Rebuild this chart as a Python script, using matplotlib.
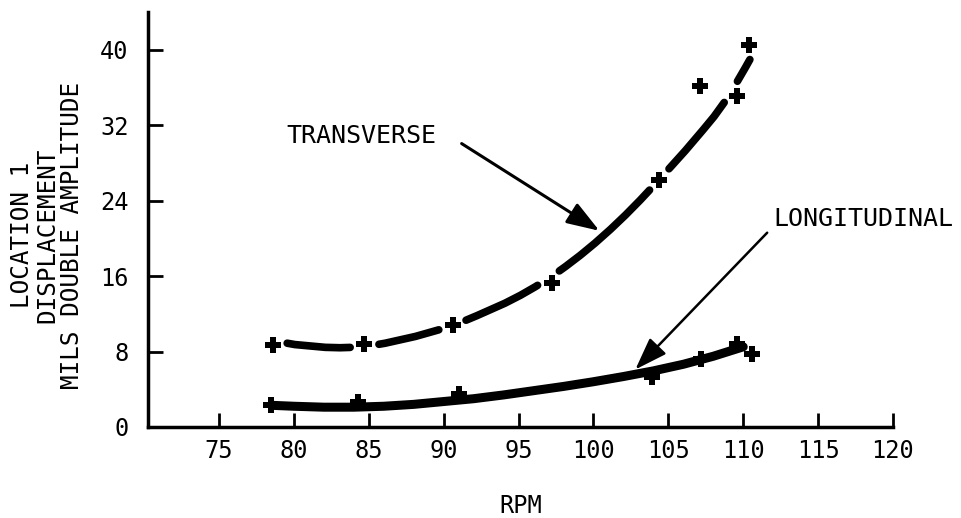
import numpy as np
import matplotlib
matplotlib.use("Agg")
import matplotlib.pyplot as plt

# RPM vs displacement
trans_rpm = [78.6, 84.7, 90.6, 97.2, 104.4, 107.1, 109.6, 110.4]
trans_amp = [8.7, 8.8, 10.8, 15.3, 26.2, 36.2, 35.1, 40.5]
long_rpm = [78.5, 84.3, 91.0, 103.9, 107.2, 109.6, 110.6]
long_amp = [2.3, 2.6, 3.5, 5.3, 7.2, 8.8, 7.7]

# hand-faired curves
trans_curve_rpm = [79.5, 80, 81, 82, 83, 84, 85, 86, 87, 88, 89, 90, 91, 92, 93, 94, 95, 96,
                   97, 98, 99, 100, 101, 102, 103, 104, 105, 106, 107, 108, 109, 110, 110.6]
trans_curve_amp = [8.9, 8.75, 8.6, 8.45, 8.4, 8.45, 8.6, 8.85, 9.2, 9.55, 10.0, 10.45, 11.0, 11.65,
                   12.35, 13.05, 13.85, 14.75, 15.75, 16.85, 18.05, 19.35, 20.75, 22.25, 23.85,
                   25.55, 27.3, 29.05, 30.9, 32.8, 35.0, 37.7, 39.4]
long_curve_rpm = [78.5, 80, 82, 84, 86, 88, 90, 92, 94, 96, 98, 100, 102, 104, 106, 108, 110]
long_curve_amp = [2.3, 2.2, 2.1, 2.1, 2.2, 2.4, 2.7, 3.0, 3.4, 3.85, 4.3, 4.8, 5.35, 5.95, 6.65, 7.5, 8.5]

xticks = [75, 80, 85, 90, 95, 100, 105, 110, 115, 120]
yticks = [0, 8, 16, 24, 32, 40]

FONT = "DejaVu Sans Mono"
plt.rcParams['font.family'] = FONT

fig = plt.figure(figsize=(9.62, 5.18), dpi=100)
ax = fig.add_axes([148/962., 1-427/518., 745/962., 415/518.])
ax.set_xlim(70.26, 120)
ax.set_ylim(0, 44.0)

# transverse: broken around each data point
cx = np.array(trans_curve_rpm)
cy = np.array(trans_curve_amp)
xx = np.linspace(cx[0], cx[-1], 600)
yy = np.interp(xx, cx, cy)
sx = 14.98
sy = 9.43
mask = np.ones_like(xx, dtype=bool)
for px, py in zip(trans_rpm, trans_amp):
    d = np.hypot((xx-px)*sx, (yy-py)*sy)
    mask &= d > 14
yy_m = np.where(mask, yy, np.nan)
ax.plot(xx, yy_m, color='black', lw=5.5, solid_capstyle='round')
ax.plot(trans_rpm, trans_amp, ls='none', marker='P', ms=12, color='black', mew=0)

ax.plot(long_curve_rpm, long_curve_amp, color='black', lw=6.5, solid_capstyle='round')
ax.plot(long_rpm, long_amp, ls='none', marker='P', ms=12, color='black', mew=0)

ax.text(79.5, 30.9, "TRANSVERSE", fontsize=18, ha='left', va='center')
ax.annotate("", xy=(100.4, 20.8), xytext=(91.2, 30.05),
            arrowprops=dict(arrowstyle='-|>,head_length=1.0,head_width=0.35',
                            color='black', lw=2.2, mutation_scale=20, shrinkA=0, shrinkB=0))
ax.text(112.0, 22.0, "LONGITUDINAL", fontsize=18, ha='left', va='center', clip_on=False)
ax.annotate("", xy=(102.8, 6.1), xytext=(111.6, 20.6),
            arrowprops=dict(arrowstyle='-|>,head_length=1.0,head_width=0.35',
                            color='black', lw=1.8, mutation_scale=20, shrinkA=0, shrinkB=0))

for s in ['top', 'right']:
    ax.spines[s].set_visible(False)
for s in ['left', 'bottom']:
    ax.spines[s].set_linewidth(2.5)

ax.set_xticks(xticks)
ax.set_yticks(yticks)
ax.set_xticklabels([str(t) for t in xticks], fontsize=17)
ax.set_yticklabels([str(t) for t in yticks], fontsize=17)
ax.tick_params(axis='x', direction='in', length=10, width=2, pad=9)
ax.tick_params(axis='y', direction='in', length=11, width=2, pad=14)

ax.set_xlabel("RPM", fontsize=17, labelpad=22)
fig.text(47/962., 1-235/518., "LOCATION 1\nDISPLACEMENT\nMILS DOUBLE AMPLITUDE",
         rotation=90, ha='center', va='center', multialignment='center',
         fontsize=17.5, linespacing=1.05)

fig.savefig("out.png", dpi=100)
